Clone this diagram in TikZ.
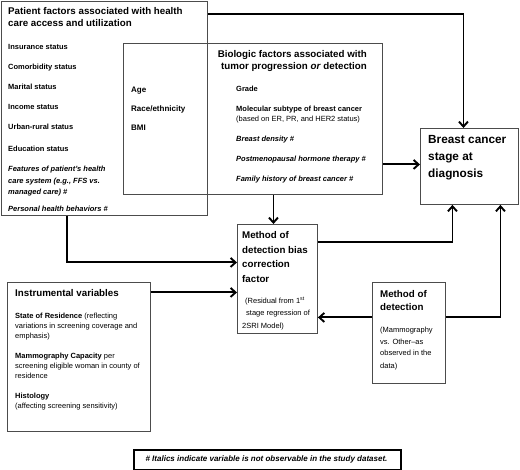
\documentclass[tikz,border=0pt]{standalone}
\usepackage{fontspec}
\setmainfont{Liberation Sans}
\usetikzlibrary{arrows.meta,calc}
\begin{document}
\begin{tikzpicture}[x=1pt,y=-1pt,
  box/.style={draw=black!70, line width=0.9pt, anchor=north west, inner sep=0pt},
  fbox/.style={draw=black, line width=2pt, anchor=north west, inner sep=0pt},
  arr/.style={line width=1.9pt, -{Straight Barb[length=5pt,width=9pt,line width=1.9pt]}},
  tt/.style={anchor=base west, inner sep=0pt, font=\fontsize{9.75}{12}\selectfont\bfseries},
  tb/.style={anchor=base west, inner sep=0pt, font=\fontsize{11.8}{14}\selectfont\bfseries},
  ib/.style={anchor=base west, inner sep=0pt, font=\fontsize{7.5}{9}\selectfont\bfseries},
  ii/.style={anchor=base west, inner sep=0pt, font=\fontsize{7.5}{9}\selectfont\bfseries\itshape},
  ir/.style={anchor=base west, inner sep=0pt, font=\fontsize{7.5}{9}\selectfont},
  im/.style={anchor=base west, inner sep=0pt, font=\fontsize{8}{10}\selectfont\bfseries}]
\useasboundingbox (0,0) rectangle (520,470);
% boxes
\node (pat) [box, minimum width=206pt, minimum height=214pt] at (1,1) {};
\node (bio) [box, minimum width=259pt, minimum height=151pt] at (123,43) {};
\node (brs) [box, minimum width=98pt, minimum height=76pt] at (420,128) {};
\node (bias) [box, minimum width=80pt, minimum height=109pt] at (237,224) {};
\node (instr) [box, minimum width=143pt, minimum height=149pt] at (7,282) {};
\node (meth) [box, minimum width=73pt, minimum height=101pt] at (372,282) {};
\node (foot) [fbox, minimum width=267pt, minimum height=20pt] at (133,449) {};
% patient text
\node (p1) [tt] at (8,15) {Patient factors associated with health};
\node (p2) [tt] at (8,27) {care access and utilization};
\node (p3) [ib] at (8,50) {Insurance status};
\node (p4) [ib] at (8,70) {Comorbidity status};
\node (p5) [ib] at (8,90) {Marital status};
\node (p6) [ib] at (8,110) {Income status};
\node (p7) [ib] at (8,130) {Urban-rural status};
\node (p8) [ib] at (8,152) {Education status};
\node (p9) [ii] at (8,172) {Features of patient's health};
\node (p10) [ii] at (8,183.5) {care system (e.g., FFS vs.};
\node (p11) [ii] at (8,195) {managed care) \#};
\node (p12) [ii] at (8,212) {Personal health behaviors \#};
% biologic text
\node (b1) [tt, anchor=base east] at (367,57.5) {Biologic factors associated with};
\node (b2) [tt, anchor=base east] at (367,69.5) {tumor progression \textit{or} detection};
\node (b3) [im] at (131,92.5) {Age};
\node (b4) [im] at (131,112) {Race/ethnicity};
\node (b5) [im] at (131,130.5) {BMI};
\node (b6) [ib] at (236,92) {Grade};
\node (b7) [ib] at (236,112) {Molecular subtype of breast cancer};
\node (b8) [ir] at (236,122) {(based on ER, PR, and HER2 status)};
\node (b9) [ii] at (236,142) {Breast density \#};
\node (b10) [ii] at (236,162) {Postmenopausal hormone therapy \#};
\node (b11) [ii] at (236,182) {Family history of breast cancer \#};
% breast cancer stage text
\node (s1) [tb] at (428,144) {Breast cancer};
\node (s2) [tb] at (428,161) {stage at};
\node (s3) [tb] at (428,178) {diagnosis};
% bias text
\node (c1) [tt] at (242,239) {Method of};
\node (c2) [tt] at (242,254) {detection bias};
\node (c3) [tt] at (242,268) {correction};
\node (c4) [tt] at (242,282.5) {factor};
\node (c5) [ir] at (245,304) {(Residual from 1\textsuperscript{st}};
\node (c6) [ir] at (246,316) {stage regression of};
\node (c7) [ir] at (242,329) {2SRI Model)};
% instrumental text
\node (i1) [tt] at (15,296.5) {Instrumental variables};
\node (i2) [ib] at (15,319) {State of Residence \textmd{(reflecting}};
\node (i3) [ir] at (15,328.5) {variations in screening coverage and};
\node (i4) [ir] at (15,338.5) {emphasis)};
\node (i5) [ib] at (15,359) {Mammography Capacity \textmd{per}};
\node (i6) [ir] at (15,368.5) {screening eligible woman in county of};
\node (i7) [ir] at (15,378.5) {residence};
\node (i8) [ib] at (15,398.5) {Histology};
\node (i9) [ir] at (15,409) {(affecting screening sensitivity)};
% method of detection text
\node (m1) [tt] at (380,297.5) {Method of};
\node (m2) [tt] at (380,311) {detection};
\node (m3) [ir] at (380,333) {(Mammography};
\node (m4) [ir] at (380,345) {vs. Other--as};
\node (m5) [ir] at (380,356) {observed in the};
\node (m6) [ir] at (380,368.5) {data)};
% footnote
\node (f1) [anchor=base, inner sep=0pt, font=\fontsize{8}{10}\selectfont\bfseries\itshape] at (266.5,462) {\# Italics indicate variable is not observable in the study dataset.};
% connectors
\coordinate (a1) at ([yshift=-13pt]pat.north east);
\coordinate (e1) at ([xshift=-6pt]brs.north);
\draw[arr] (a1) -| (e1);
\coordinate (a2) at ([yshift=-45.5pt]bio.east);
\draw[arr] (a2) -- (a2 -| brs.west);
\coordinate (a3) at ([xshift=20.5pt]bio.south);
\draw[arr] (a3) -- (a3 |- bias.north);
\coordinate (a4) at ([xshift=66pt]pat.south west);
\coordinate (e4) at ([yshift=16.5pt]bias.west);
\draw[arr] (a4) |- (e4);
\coordinate (a5) at ([yshift=64.5pt]instr.east);
\draw[arr] (a5) -- (a5 -| bias.west);
\coordinate (a6) at ([yshift=15.5pt]meth.west);
\draw[arr] (a6) -- (a6 -| bias.east);
\coordinate (a7) at ([yshift=36.5pt]bias.east);
\coordinate (e7) at ([xshift=-17pt]brs.south);
\draw[arr] (a7) -| (e7);
\coordinate (a8) at ([yshift=15.5pt]meth.east);
\coordinate (e8) at ([xshift=31pt]brs.south);
\draw[arr] (a8) -| (e8);
\end{tikzpicture}
\end{document}
